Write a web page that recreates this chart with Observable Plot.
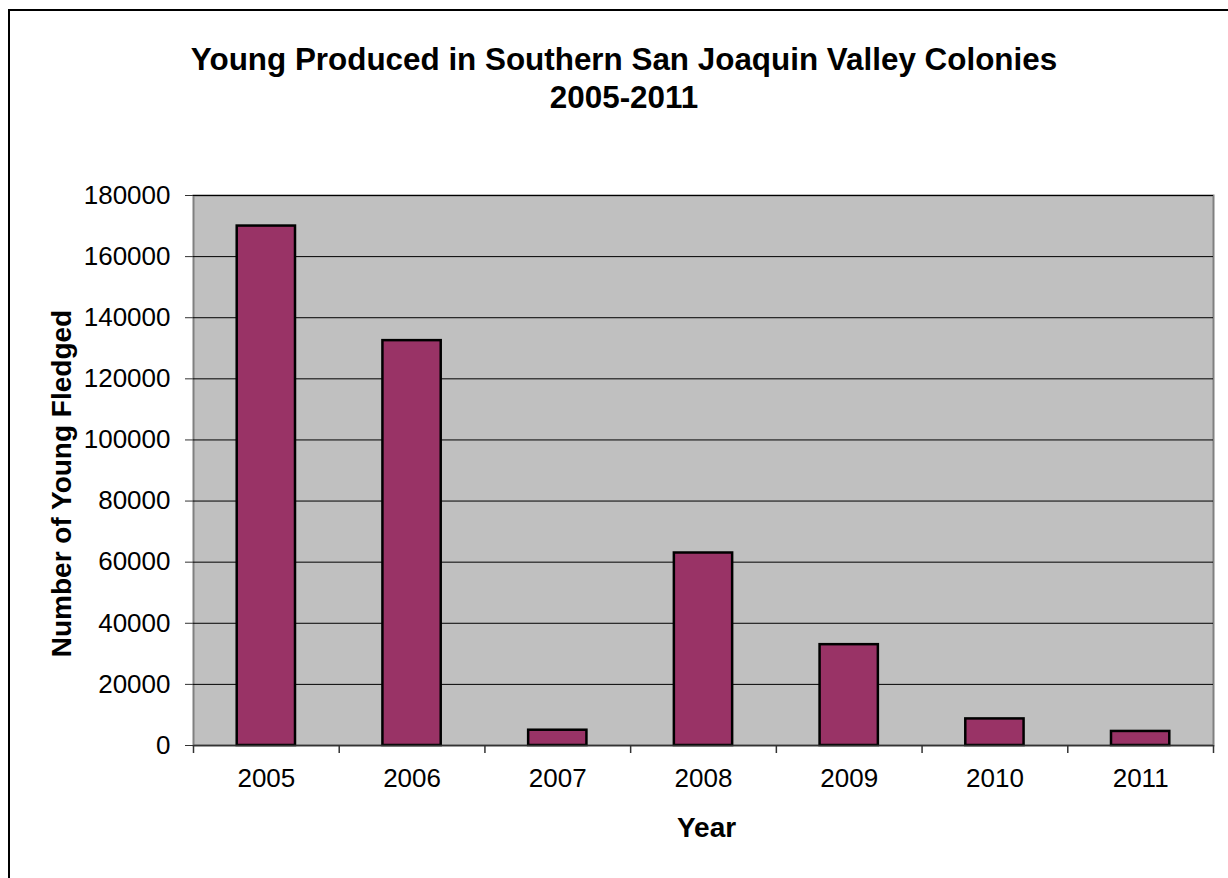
<!DOCTYPE html>
<html>
<head>
<meta charset="utf-8">
<script src="https://cdn.jsdelivr.net/npm/d3@7"></script>
<script src="https://cdn.jsdelivr.net/npm/@observablehq/plot@0.6"></script>
<style>
  html, body { margin: 0; padding: 0; background: #fff; }
  #wrap { position: relative; width: 1228px; height: 878px; overflow: hidden; font-family: "Liberation Sans", Arial, sans-serif; }
  #border { position: absolute; left: 8px; top: 9px; width: 1300px; height: 1000px; border-top: 2px solid #000; border-left: 2px solid #000; box-sizing: border-box; }
  #title { position: absolute; left: 124px; width: 1000px; top: 41px; text-align: center; font-size: 31.4px; font-weight: bold; line-height: 38px; color: #000; }
  #chart { position: absolute; left: 0; top: 0; }
</style>
</head>
<body>
<div id="wrap">
  <div id="border"></div>
  <div id="chart"></div>
  <div id="title">Young Produced in Southern San Joaquin Valley Colonies<br>2005-2011</div>
</div>
<script>
const years = ["2005", "2006", "2007", "2008", "2009", "2010", "2011"];
const fledged = [170000, 132500, 5000, 63000, 33000, 8700, 4600];
const yTicks = [0, 20000, 40000, 60000, 80000, 100000, 120000, 140000, 160000, 180000];
const yLabel = "Number of Young Fledged";
const xLabel = "Year";

const data = years.map((y, i) => ({year: y, value: fledged[i]}));
const step = 1020 / years.length;

const plot = Plot.plot({
  width: 1228,
  height: 878,
  marginLeft: 193,
  marginRight: 15,
  marginTop: 195,
  marginBottom: 133,
  style: {fontFamily: "'Liberation Sans', Arial, sans-serif", background: "transparent", color: "#000"},
  x: {type: "band", domain: years, paddingInner: 0.6, paddingOuter: 0.3, round: false, label: null},
  y: {domain: [0, 180000], label: null},
  marks: [
    Plot.frame({fill: "#C0C0C0", stroke: "#808080", strokeWidth: 2}),
    Plot.gridY(yTicks, {stroke: "#000", strokeOpacity: 1, strokeWidth: 1}),
    Plot.barY(data, {x: "year", y: "value", fill: "#993366", stroke: "#000", strokeWidth: 2.5}),
    Plot.ruleX([0], {frameAnchor: "left", stroke: "#333", strokeWidth: 1.5}),
    Plot.ruleY([0], {stroke: "#333", strokeWidth: 1.5}),
    Plot.axisY(yTicks, {tickSize: 8, tickPadding: 15, tickFormat: "d", fontSize: 26, stroke: "#333", fill: "#000", label: null}),
    Plot.axisX({tickSize: 0, tickPadding: 23, fontSize: 26, fill: "#000", label: null}),
    Plot.ruleX(years, {x: d => d, dx: -step / 2, y1: 0, y2: 0, insetBottom: -8, stroke: "#333", strokeWidth: 1.5}),
    Plot.ruleX(years.slice(-1), {x: d => d, dx: step / 2, y1: 0, y2: 0, insetBottom: -8, stroke: "#333", strokeWidth: 1.5}),
    Plot.text([yLabel], {text: d => d, frameAnchor: "left", textAnchor: "middle", lineAnchor: "middle", dx: -131, dy: 13, rotate: -90, fontSize: 28, fontWeight: "bold", fill: "#000"}),
    Plot.text([xLabel], {text: d => d, frameAnchor: "bottom", lineAnchor: "middle", dx: 3, dy: 83, fontSize: 28, fontWeight: "bold", fill: "#000"})
  ]
});
document.getElementById("chart").appendChild(plot);
</script>
</body>
</html>
